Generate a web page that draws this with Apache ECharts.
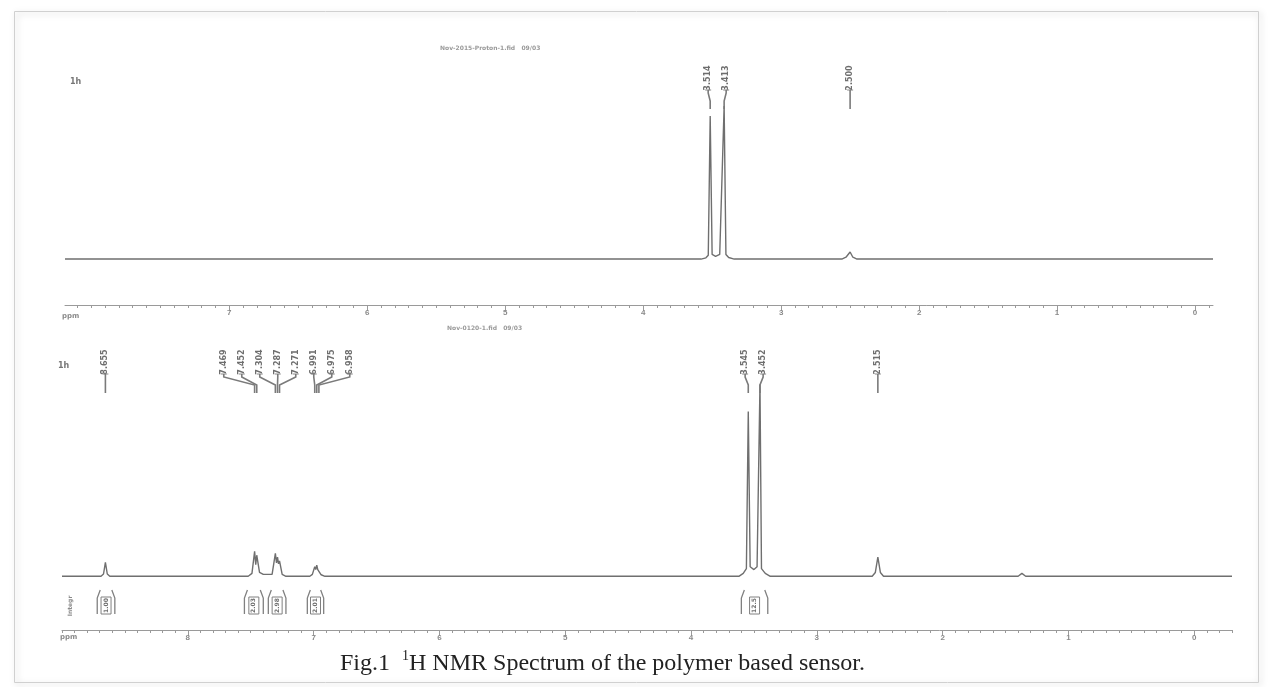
<!DOCTYPE html>
<html>
<head>
<meta charset="utf-8">
<script src="https://cdn.jsdelivr.net/npm/echarts@6/dist/echarts.min.js"></script>
<style>
html,body{margin:0;padding:0;background:#fff;}
#chart{width:1268px;height:687px;}
</style>
</head>
<body>
<div id="chart"></div>
<script>
// ---- data (ppm, relative intensity) ----
const topSpectrum = [
  [8.19,0],[3.58,0],[3.545,0.8],[3.528,2.5],[3.514,93.5],[3.50,3],[3.475,1.8],
  [3.445,3],[3.413,100],[3.40,3],[3.38,1],[3.34,0],
  [2.56,0],[2.53,1.2],[2.50,4.6],[2.48,1.2],[2.45,0],[-0.13,0]
];
const bottomSpectrum = [
  [9.0,0],[8.69,0],[8.67,1.2],[8.655,7.3],[8.64,1.2],[8.62,0],
  [7.52,0],[7.49,1.5],[7.469,13],[7.46,6],[7.452,11],[7.43,2],[7.40,1],
  [7.33,1],[7.304,12],[7.295,7],[7.287,10],[7.279,6.5],[7.271,8],[7.25,1],[7.22,0],
  [7.03,0],[7.01,1],[6.991,5],[6.983,3.5],[6.975,5.8],[6.967,3.5],[6.958,4.5],[6.94,0.8],[6.91,0],
  [3.62,0],[3.585,1.5],[3.56,4],[3.545,85.9],[3.53,5],[3.50,3.5],[3.475,5],[3.452,100],[3.44,4],[3.41,1.5],[3.37,0],
  [2.56,0],[2.535,2],[2.515,10],[2.495,2],[2.47,0],
  [1.40,0],[1.37,1.5],[1.34,0],[-0.30,0]
];
const topPeakLabels = [3.514, 3.413, 2.500];
const bottomPeakLabels = [8.655, 7.469, 7.452, 7.304, 7.287, 7.271, 6.991, 6.975, 6.958, 3.545, 3.452, 2.515];
const integralStart = [8.72, 7.55, 7.36, 7.05, 3.60];
const integralEnd   = [8.58, 7.40, 7.22, 6.92, 3.39];
const integralText  = ['1.00', '2.03', '2.98', '2.01', '12.5'];
const topTickLabels = [0,1,2,3,4,5,6,7];
const bottomTickLabels = [0,1,2,3,4,5,6,7,8];
const figCaptionPre = 'Fig.1  ';
const figCaptionSup = '1';
const figCaptionPost = 'H NMR Spectrum of the polymer based sensor.';

// ---- helpers ----
function minorTicks(min, max){
  const arr=[]; for(let v=Math.ceil(min*10); v<=Math.floor(max*10); v++){ arr.push(v/10); } return arr;
}
function layoutLabels(pxList, gap){
  const idx = pxList.map((p,i)=>i).sort((a,b)=>pxList[a]-pxList[b]);
  let groups = idx.map(i=>({members:[i], center:pxList[i]}));
  let changed=true;
  while(changed){
    changed=false;
    for(let g=0; g<groups.length-1; g++){
      const a=groups[g], b=groups[g+1];
      const aEnd=a.center+(a.members.length-1)/2*gap;
      const bStart=b.center-(b.members.length-1)/2*gap;
      if(bStart-aEnd<gap){
        const m=a.members.concat(b.members);
        const c=m.reduce((s,i)=>s+pxList[i],0)/m.length;
        groups.splice(g,2,{members:m,center:c});
        changed=true; break;
      }
    }
  }
  const pos=new Array(pxList.length);
  groups.forEach(g=>{ g.members.forEach((i,k)=>{ pos[i]=g.center+(k-(g.members.length-1)/2)*gap; }); });
  return pos;
}
function peakLabelSeries(labels, xi, yi, textOffset){
  return {
    type:'custom', xAxisIndex:xi, yAxisIndex:yi, silent:true, z:5,
    data: labels.map(v=>[v,0]),
    renderItem: function(params, api){
      const cs = params.coordSys;
      const pxs = labels.map(v=>api.coord([v,0])[0]);
      const pos = layoutLabels(pxs, 18);
      const i = params.dataIndex;
      const px = pxs[i], lx = pos[i];
      const ty = cs.y + textOffset;
      const tb = ty + 11;
      return {type:'group', children:[
        {type:'text', x:lx, y:ty, rotation:Math.PI/2,
          style:{text:labels[i].toFixed(3), fill:'#6e6e6e', font:'bold 8px "DejaVu Sans"', align:'center', verticalAlign:'middle'}},
        {type:'line', shape:{x1:lx-3,y1:tb+1,x2:lx+3,y2:tb+1}, style:{stroke:'#888', lineWidth:1}},
        {type:'polyline', shape:{points:[[lx,tb+1],[lx,tb+4],[px,tb+12],[px,tb+20]]},
          style:{stroke:'#7a7a7a', lineWidth:1.6, fill:null}}
      ]};
    }
  };
}

const chart = echarts.init(document.getElementById('chart'), null, {renderer:'canvas'});

function xAxisBase(grid, min, max, labels){
  return [
    {type:'value', gridIndex:grid, min:min, max:max, inverse:true,
      splitLine:{show:false},
      axisLine:{show:true, onZero:false, lineStyle:{color:'#9a9a9a', width:1}},
      axisTick:{show:true, customValues:minorTicks(min,max), length:3, inside:false, lineStyle:{color:'#9a9a9a'}},
      axisLabel:{show:true, customValues:labels, color:'#8a8a8a', fontSize:8, margin:4, fontWeight:'bold'}},
    {type:'value', gridIndex:grid, min:min, max:max, inverse:true, position:'bottom',
      splitLine:{show:false},
      axisLine:{show:false, onZero:false},
      axisTick:{show:true, customValues:labels, length:6, lineStyle:{color:'#9a9a9a'}},
      axisLabel:{show:false}}
  ];
}

const option = {
  backgroundColor:'#ffffff',
  animation:false,
  title:{
    left:335, top:644,
    text:'{a|'+figCaptionPre+'}{s|'+figCaptionSup+'}{a|'+figCaptionPost+'}',
    textStyle:{
      fontWeight:'normal',
      rich:{
        a:{fontFamily:'"Liberation Serif", serif', fontSize:24, fontWeight:'normal', color:'#222', lineHeight:27, verticalAlign:'bottom'},
        s:{fontFamily:'"Liberation Serif", serif', fontSize:14, fontWeight:'normal', color:'#222', lineHeight:27, verticalAlign:'top', padding:[0,0,12,0]}
      }
    }
  },
  grid:[
    {left:65, right:55, top:60, height:245},
    {left:62, right:36, top:350, height:280}
  ],
  xAxis: xAxisBase(0, -0.13, 8.19, topTickLabels).concat(xAxisBase(1, -0.30, 9.0, bottomTickLabels)),
  yAxis:[
    {type:'value', gridIndex:0, min:-30, max:130, show:false, splitLine:{show:false}},
    {type:'value', gridIndex:1, min:-28, max:118, show:false, splitLine:{show:false}}
  ],
  series:[
    {type:'line', xAxisIndex:0, yAxisIndex:0, data:topSpectrum, showSymbol:false, symbol:'none',
      lineStyle:{color:'#6f6f6f', width:1.4}, silent:true},
    {type:'line', xAxisIndex:2, yAxisIndex:1, data:bottomSpectrum, showSymbol:false, symbol:'none',
      lineStyle:{color:'#6f6f6f', width:1.4}, silent:true},
    peakLabelSeries(topPeakLabels, 0, 0, 18),
    peakLabelSeries(bottomPeakLabels, 2, 1, 12),
    {
      type:'custom', xAxisIndex:2, yAxisIndex:1, silent:true,
      data: integralStart.map((s,i)=>[s, integralEnd[i]]),
      renderItem:function(params, api){
        const cs=params.coordSys;
        const x1=api.coord([api.value(0),0])[0];
        const x2=api.coord([api.value(1),0])[0];
        const y0=cs.y+cs.height-40, y1=cs.y+cs.height-16;
        const mx=(x1+x2)/2;
        const col='#808080';
        return {type:'group', children:[
          {type:'polyline', shape:{points:[[x1,y1],[x1,y0+8],[x1+3,y0]]}, style:{stroke:col,lineWidth:1.3,fill:null}},
          {type:'polyline', shape:{points:[[x2,y1],[x2,y0+8],[x2-3,y0]]}, style:{stroke:col,lineWidth:1.3,fill:null}},
          {type:'rect', shape:{x:mx-5,y:y0+7,width:10,height:17}, style:{stroke:col,lineWidth:1,fill:'#fff'}},
          {type:'text', x:mx, y:y0+15.5, rotation:Math.PI/2,
            style:{text:integralText[params.dataIndex], fill:'#707070', font:'bold 6px "DejaVu Sans"', align:'center', verticalAlign:'middle'}}
        ]};
      }
    }
  ],
  graphic:[
    {type:'rect', left:12, top:9, shape:{width:1244, height:671},
      style:{fill:'none', stroke:'#d0d0d0', lineWidth:1, shadowBlur:6, shadowColor:'rgba(0,0,0,0.25)', shadowOffsetX:2, shadowOffsetY:2}, z:-10, silent:true},
    {type:'text', left:440, top:45, style:{text:'Nov-2015-Proton-1.fid   09/03', fill:'#9a9a9a', font:'bold 6px "DejaVu Sans"'}},
    {type:'text', left:447, top:325, style:{text:'Nov-0120-1.fid   09/03', fill:'#9a9a9a', font:'bold 6px "DejaVu Sans"'}},
    {type:'text', left:70, top:78, style:{text:'1h', fill:'#777', font:'bold 8px "DejaVu Sans"'}},
    {type:'text', left:58, top:362, style:{text:'1h', fill:'#777', font:'bold 8px "DejaVu Sans"'}},
    {type:'text', left:62, top:313, style:{text:'ppm', fill:'#8a8a8a', font:'bold 7px "DejaVu Sans"'}},
    {type:'text', left:60, top:634, style:{text:'ppm', fill:'#8a8a8a', font:'bold 7px "DejaVu Sans"'}},
    {type:'text', x:70, y:606, rotation:Math.PI/2, style:{text:'Integr', fill:'#8a8a8a', font:'bold 6px "DejaVu Sans"', align:'center', verticalAlign:'middle'}}
  ]
};
chart.setOption(option);
</script>
</body>
</html>
